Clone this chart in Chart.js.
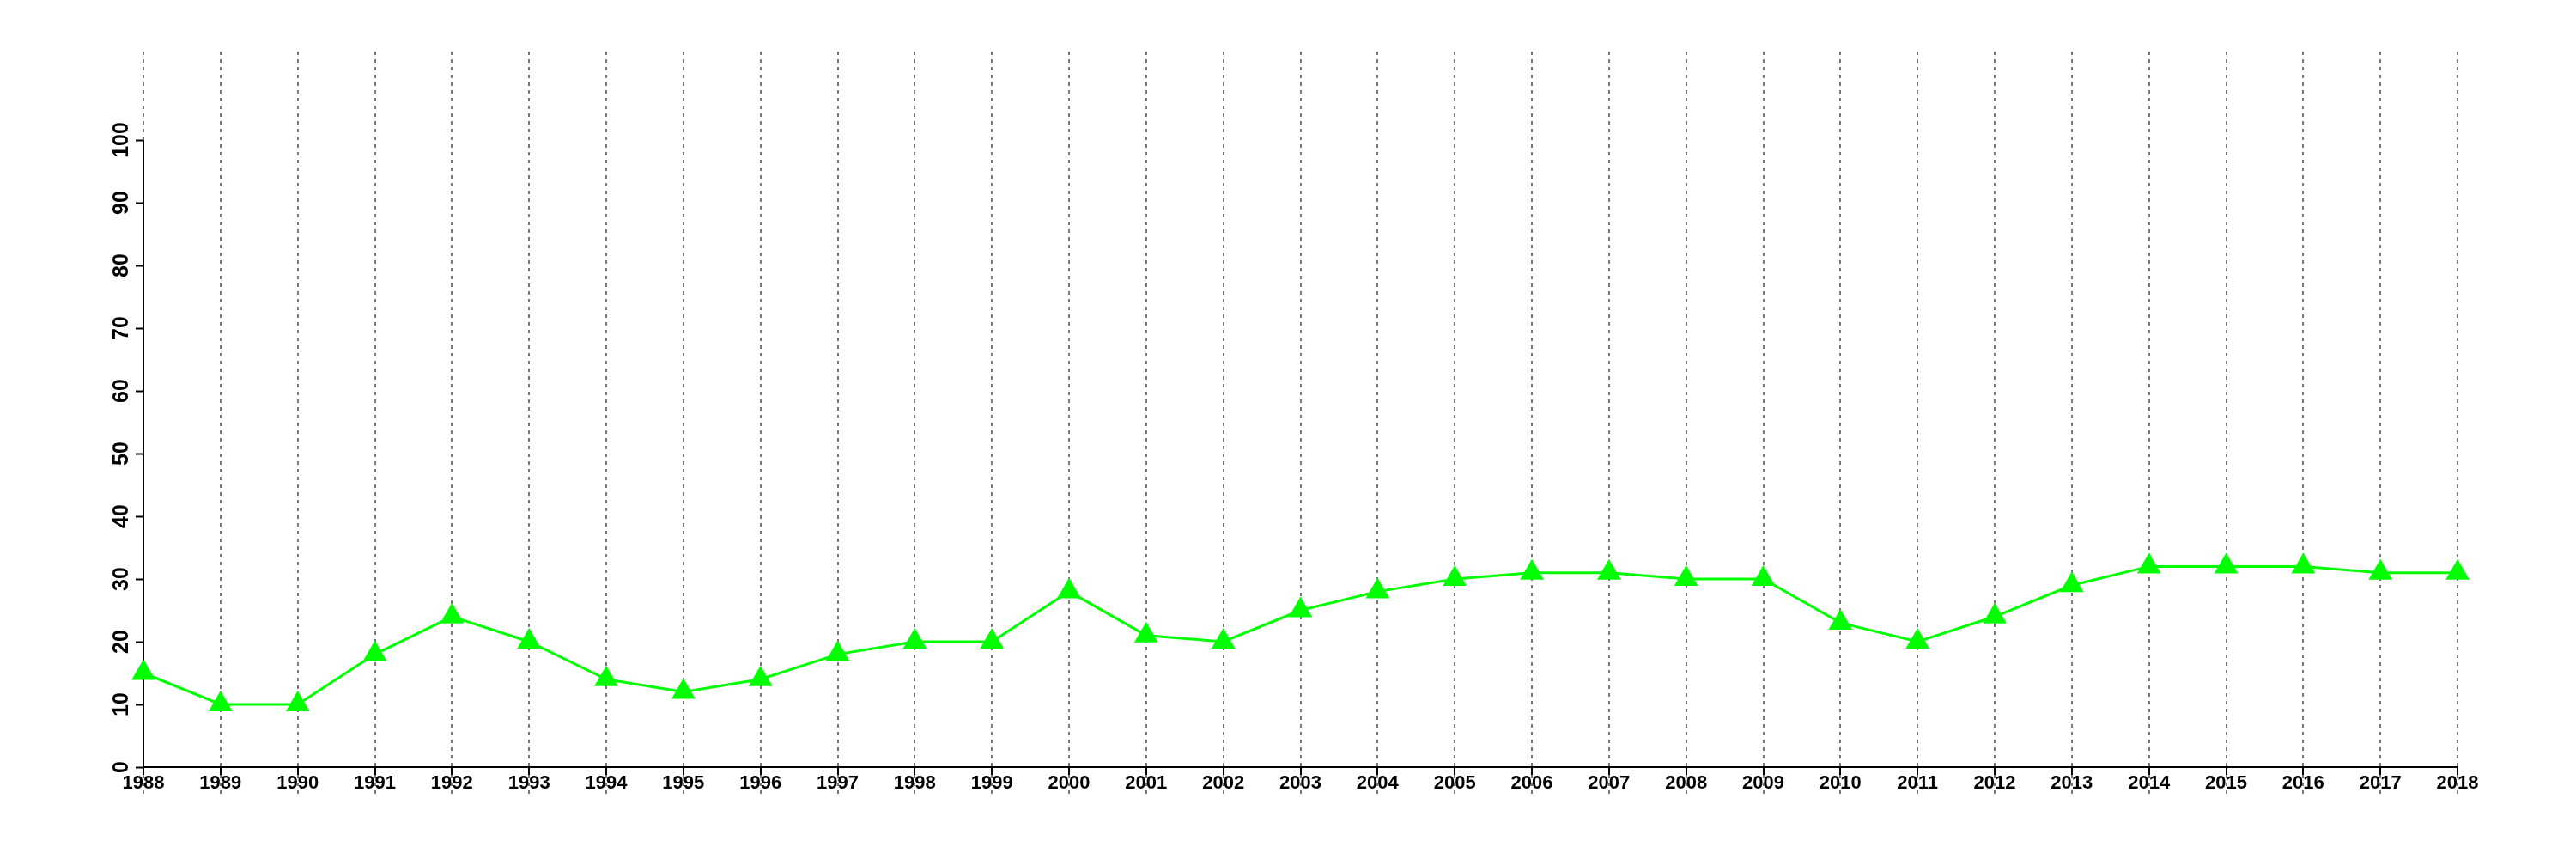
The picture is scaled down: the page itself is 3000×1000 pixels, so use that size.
<!DOCTYPE html>
<html>
<head>
<meta charset="utf-8">
<style>
  html, body { margin: 0; padding: 0; background: #ffffff; }
  #wrap { width: 3000px; height: 1000px; }
</style>
<script src="https://cdn.jsdelivr.net/npm/chart.js@4/dist/chart.umd.min.js"></script>
</head>
<body>
<div id="wrap"><canvas id="c" width="3000" height="1000"></canvas></div>
<script>
const years = ['1988','1989','1990','1991','1992','1993','1994','1995','1996','1997','1998','1999','2000','2001','2002','2003','2004','2005','2006','2007','2008','2009','2010','2011','2012','2013','2014','2015','2016','2017','2018'];
const values = [15,10,10,18,24,20,14,12,14,18,20,20,28,21,20,25,28,30,31,31,30,30,23,20,24,29,32,32,32,31,31];
const yTickValues = [0,10,20,30,40,50,60,70,80,90,100];

const axisPlugin = {
  id: 'axisDecor',
  beforeDatasetsDraw(chart) {
    const ctx = chart.ctx;
    const xs = chart.scales.x, ys = chart.scales.y;
    const left = chart.chartArea.left;
    const bottom = chart.chartArea.bottom;
    ctx.save();
    ctx.setLineDash([]);
    ctx.strokeStyle = '#000000';
    ctx.lineWidth = 2;
    ctx.lineCap = 'butt';
    ctx.beginPath();
    ctx.moveTo(xs.getPixelForTick(0) - 1, bottom);
    ctx.lineTo(xs.getPixelForTick(years.length - 1) + 1, bottom);
    ctx.stroke();
    ctx.beginPath();
    ctx.moveTo(left, ys.getPixelForValue(yTickValues[0]) + 1);
    ctx.lineTo(left, ys.getPixelForValue(yTickValues[yTickValues.length - 1]));
    ctx.stroke();
    ctx.beginPath();
    for (let i = 0; i < years.length; i++) {
      const px = Math.round(xs.getPixelForTick(i));
      ctx.moveTo(px, bottom);
      ctx.lineTo(px, bottom + 9);
    }
    ctx.stroke();
    ctx.restore();
  }
};

new Chart(document.getElementById('c'), {
  type: 'line',
  data: {
    labels: years,
    datasets: [{
      data: values,
      borderColor: '#00ff00',
      backgroundColor: '#00ff00',
      borderWidth: 3,
      pointStyle: 'triangle',
      pointRadius: 16,
      pointHoverRadius: 16,
      pointBackgroundColor: '#00ff00',
      pointBorderColor: '#00ff00',
      pointBorderWidth: 0,
      tension: 0,
      fill: false
    }]
  },
  options: {
    responsive: false,
    animation: false,
    devicePixelRatio: 1,
    layout: { padding: { left: 67, right: 138, top: 60, bottom: 7 } },
    plugins: { legend: { display: false }, tooltip: { enabled: false } },
    scales: {
      x: {
        type: 'category',
        offset: false,
        border: { display: false, color: '#000000', width: 2, dash: [4, 5] },
        grid: {
          display: true,
          drawOnChartArea: true,
          drawTicks: true,
          tickLength: 34,
          color: '#777777',
          lineWidth: 2,
          tickColor: '#777777',
          tickWidth: 2,
          tickBorderDash: [4, 5]
        },
        ticks: {
          autoSkip: false,
          maxRotation: 0,
          minRotation: 0,
          padding: -28,
          color: '#000000',
          font: { family: '"Liberation Sans", Arial, sans-serif', size: 22, weight: 'bold' }
        },
        afterFit(scale) { scale.height = 100; }
      },
      y: {
        type: 'linear',
        min: 0,
        max: 114.11,
        border: { display: false },
        grid: {
          display: true,
          drawOnChartArea: false,
          drawTicks: true,
          tickLength: 9,
          tickColor: '#000000',
          tickWidth: 2
        },
        ticks: {
          minRotation: 90,
          maxRotation: 90,
          crossAlign: 'center',
          padding: -5,
          color: '#000000',
          font: { family: '"Liberation Sans", Arial, sans-serif', size: 25, weight: 'bold' }
        },
        afterBuildTicks(scale) { scale.ticks = yTickValues.map(v => ({ value: v })); },
        afterFit(scale) { scale.width = 100; }
      }
    }
  },
  plugins: [axisPlugin]
});
</script>
</body>
</html>
